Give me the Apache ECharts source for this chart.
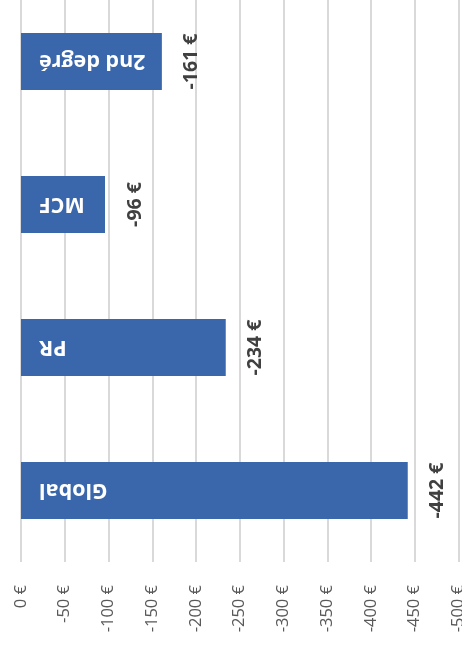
<!DOCTYPE html>
<html>
<head>
<meta charset="utf-8">
<script src="https://cdn.jsdelivr.net/npm/echarts@6/dist/echarts.min.js"></script>
<style>
html,body{margin:0;padding:0;background:#fff;}
#c{width:462px;height:660px;}
</style>
</head>
<body>
<div id="c"></div>
<script>
const categories = ['Global', 'PR', 'MCF', '2nd degré'];
const values = [-442, -234, -96, -161];
const axisMin = -500;
const axisMax = 0;
const axisStep = 50;

const chart = echarts.init(document.getElementById('c'), null, {renderer: 'canvas'});
const FONT = '"Open Sans", "Liberation Sans", sans-serif';
chart.setOption({
  animation: false,
  backgroundColor: '#ffffff',
  grid: {left: 21, right: 3.5, top: -10, bottom: 98, containLabel: false, outerBoundsMode: 'none'},
  xAxis: {
    type: 'value',
    min: axisMin, max: axisMax, interval: axisStep,
    inverse: true,
    axisLine: {show: false},
    axisTick: {show: false},
    splitLine: {show: true, lineStyle: {color: '#d9d9d9', width: 2}},
    axisLabel: {
      rotate: 90, margin: 23, color: '#595959', fontSize: 16.5, fontFamily: FONT,
      formatter: v => v + ' €'
    }
  },
  yAxis: {
    type: 'category',
    data: categories,
    inverse: false,
    axisLine: {show: false},
    axisTick: {show: false},
    axisLabel: {show: false}
  },
  series: [
    {
      type: 'bar',
      data: values,
      barWidth: '40%',
      itemStyle: {color: '#3a67ab'},
      label: {
        show: true,
        position: 'insideLeft',
        distance: 18,
        rotate: 180,
        align: 'right',
        verticalAlign: 'middle',
        color: '#ffffff',
        fontWeight: 'bold',
        fontSize: 21.5,
        fontFamily: FONT,
        formatter: p => categories[p.dataIndex]
      }
    },
    {
      type: 'bar',
      data: values,
      barWidth: '40%',
      barGap: '-100%',
      itemStyle: {color: 'rgba(0,0,0,0)'},
      label: {
        show: true,
        position: 'right',
        distance: 30,
        rotate: 90,
        align: 'center',
        verticalAlign: 'middle',
        color: '#404040',
        fontWeight: 'bold',
        fontSize: 19.5,
        fontFamily: FONT,
        formatter: p => p.value + ' €'
      }
    }
  ]
});
</script>
</body>
</html>
